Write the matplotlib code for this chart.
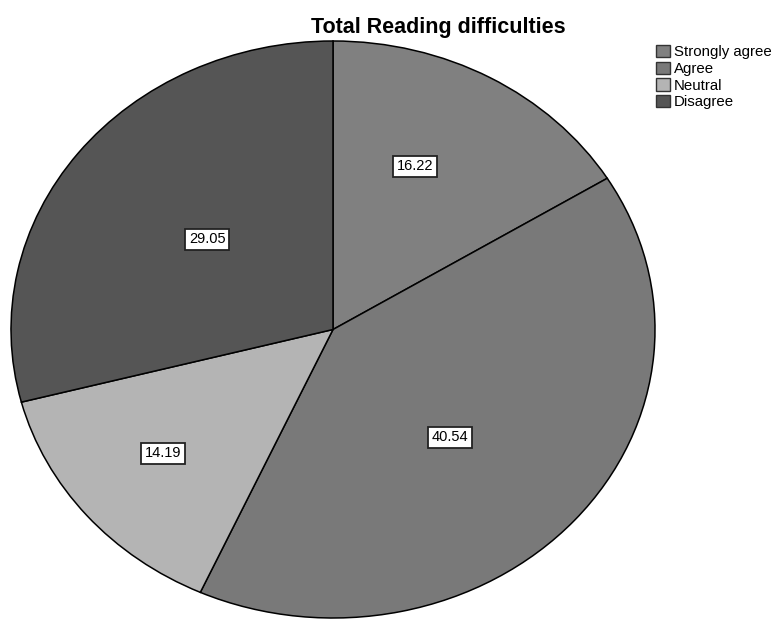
import numpy as np
import matplotlib
matplotlib.use("Agg")
import matplotlib.pyplot as plt

plt.rcParams['font.family'] = ['Liberation Sans', 'DejaVu Sans']

# Porcentajes de cada respuesta
categories = ['Strongly agree', 'Agree', 'Neutral', 'Disagree']
values = [16.22, 40.54, 14.19, 29.05]
colors = ['#808080', '#797979', '#b4b4b4', '#555555']
# posición de cada etiqueta: radio y desvío angular respecto al centro del sector
label_radius = [0.62, 0.52, 0.68, 0.5]
label_shift = [5, -4.5, -1, -1]

W, H = 774, 619
fig = plt.figure(figsize=(W / 100, H / 100), dpi=100)
# el pastel se dibuja como elipse: ejes más anchos que altos
ax = fig.add_axes([11 / W, 1 / H, 644 / W, 577 / H])

wedges, _ = ax.pie(values, colors=colors, startangle=90, counterclock=False,
                   wedgeprops=dict(edgecolor='black', linewidth=1.1))
ax.set_aspect('auto')
ax.set_xlim(-1, 1)
ax.set_ylim(-1, 1)

# Etiquetas con el valor dentro de cada sector
for w, v, r, s in zip(wedges, values, label_radius, label_shift):
    ang = np.deg2rad((w.theta1 + w.theta2) / 2 + s)
    ax.text(r * np.cos(ang), r * np.sin(ang), f'{v:.2f}', ha='center', va='center',
            fontsize=10.5, color='black',
            bbox=dict(boxstyle='square,pad=0.25', facecolor='white',
                      edgecolor='#222222', linewidth=1.3))

fig.text(438 / W, 1 - 27 / H, 'Total Reading difficulties', ha='center', va='center',
         fontsize=15.5, fontweight='bold')

handles = [plt.Rectangle((0, 0), 1, 1, facecolor=c, edgecolor='#333333', linewidth=1)
           for c in colors]
fig.legend(handles, categories, loc='upper left', bbox_to_anchor=(656 / W, 1 - 45 / H),
           frameon=False, fontsize=10.8, handlelength=0.9, handleheight=0.9,
           handletextpad=0.3, labelspacing=0.15, borderpad=0, borderaxespad=0)

fig.savefig('out.png', dpi=100)
